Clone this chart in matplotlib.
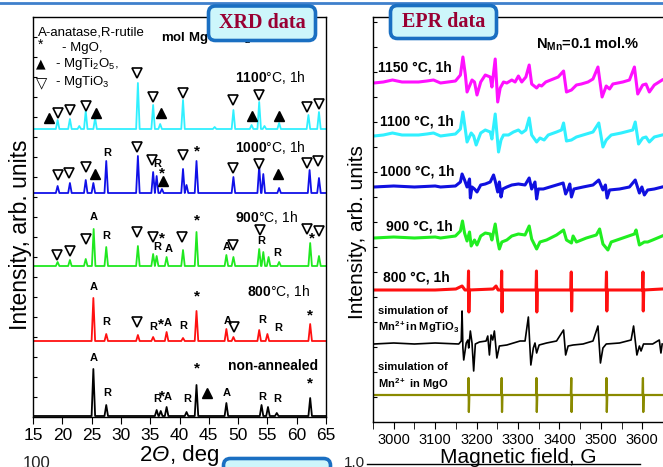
import matplotlib
matplotlib.use("Agg")
import matplotlib.pyplot as plt
from matplotlib.patches import FancyBboxPatch
from matplotlib.lines import Line2D
from matplotlib.offsetbox import TextArea, HPacker, AnnotationBbox

plt.rcParams['font.family'] = ['Liberation Sans', 'DejaVu Sans']
plt.rcParams['mathtext.fontset'] = 'custom'
plt.rcParams['mathtext.rm'] = 'Liberation Sans'
plt.rcParams['mathtext.it'] = 'Liberation Sans:italic'
plt.rcParams['mathtext.bf'] = 'Liberation Sans:bold'
plt.rcParams['mathtext.default'] = 'regular'

# ---------------- XRD data (2theta, peak height) ----------------
xrd_labels = [r"$\mathbf{1100}$°C, 1h", r"$\mathbf{1000}$°C, 1h", r"$\mathbf{900}$°C, 1h",
              r"$\mathbf{800}$°C, 1h", "non-annealed"]
xrd_colors = ['#30f0ff', '#1010e8', '#20e820', '#ff1010', 'black']
xrd_offsets = [288, 224, 151, 76, 1]

pos_1100 = [19.2, 21.3, 22.9, 24.0, 25.6, 32.9, 35.5, 36.7, 40.6, 46.0, 49.2, 52.3, 53.6, 54.5, 57.0, 62.0, 63.8]
h_1100 = [9, 10, 3, 18, 11, 46, 24, 5, 29, 2, 19, 4, 27, 3, 6, 14, 17]
pos_1000 = [19.2, 21.3, 24.0, 25.3, 27.5, 32.9, 35.5, 36.1, 37.0, 40.6, 41.2, 42.9, 49.2, 53.6, 54.3, 57.0, 62.2, 63.8]
h_1000 = [7, 10, 13, 10, 32, 37, 21, 17, 4, 24, 8, 32, 16, 27, 19, 5, 23, 15]
pos_900 = [19.2, 21.3, 24.0, 25.35, 27.5, 32.9, 35.5, 36.1, 37.8, 40.6, 42.9, 48.0, 49.2, 53.6, 54.3, 55.2, 57.0, 62.3, 63.8]
h_900 = [4, 6, 7, 37, 19, 20, 12, 10, 9, 16, 34, 11, 9, 17, 14, 9, 4, 23, 10]
pos_800 = [25.3, 27.5, 32.9, 35.5, 37.8, 40.6, 42.9, 48.0, 49.2, 53.6, 55.0, 62.3]
h_800 = [43, 7, 6, 4, 9, 3, 30, 12, 4, 11, 7, 17]
pos_non = [25.3, 27.5, 36.1, 36.8, 37.8, 41.2, 42.9, 48.0, 54.0, 55.1, 56.6, 62.3]
h_non = [47, 11, 6, 5, 9, 4, 31, 13, 11, 9, 3, 18]

# phase marks: (2theta, symbol, height above baseline)
marks_1100 = [(17.7, '^', 11), (19.3, 'v', 16), (21.3, 'v', 19), (24.0, 'v', 23), (25.8, '^', 16),
              (32.7, 'v', 56), (35.5, 'v', 32), (36.8, '^', 16), (40.6, 'v', 36), (49.1, 'v', 29),
              (52.4, '^', 13), (53.6, 'v', 34), (57.0, '^', 13), (61.8, 'v', 22), (63.8, 'v', 25)]
marks_1000 = [(27.6, 'R', 40), (32.7, 'v', 46), (40.6, 'v', 38), (43.0, '*', 42), (19.3, 'v', 18),
              (21.1, 'v', 20), (24.0, 'v', 26), (25.6, '^', 19), (35.3, 'v', 33), (36.2, 'R', 29),
              (37.0, '*', 20), (37.2, '^', 12), (49.1, 'v', 25), (53.6, 'v', 29), (56.8, '^', 19),
              (61.8, 'v', 30), (63.6, 'v', 32)]
marks_900 = [(19.1, 'v', 11), (21.3, 'v', 15), (24.0, 'v', 27), (25.4, 'A', 49), (27.5, 'R', 30),
             (32.7, 'v', 34), (35.5, 'v', 29), (37.0, '*', 28), (36.2, 'R', 19), (38.2, 'A', 17),
             (40.4, 'v', 29), (43.0, '*', 46), (48.1, 'A', 19), (49.1, 'v', 21), (53.7, 'v', 36),
             (53.9, 'R', 25), (56.6, 'R', 13), (61.8, 'v', 37), (63.8, 'v', 35), (62.6, '*', 28)]
marks_800 = [(25.4, 'A', 54), (43.0, '*', 45), (27.5, 'R', 19), (32.7, 'v', 19), (35.5, 'R', 14),
             (36.8, '*', 17), (38.0, 'A', 18), (40.6, 'R', 15), (48.3, 'A', 20), (49.3, 'v', 14),
             (54.1, 'R', 21), (56.8, 'R', 13), (62.3, '*', 26)]
marks_non = [(25.4, 'A', 58), (43.0, '*', 48), (27.6, 'R', 23), (36.2, 'R', 17), (37.0, '*', 20),
             (38.0, 'A', 19), (41.3, 'R', 17), (44.7, '^', 23), (48.1, 'A', 23), (54.2, 'R', 19),
             (56.6, 'R', 17), (62.3, '*', 33)]

xrd_pos = [pos_1100, pos_1000, pos_900, pos_800, pos_non]
xrd_h = [h_1100, h_1000, h_900, h_800, h_non]
xrd_marks = [marks_1100, marks_1000, marks_900, marks_800, marks_non]
xrd_label_x = [49.5, 49.5, 49.5, 51.5, 48.3]
xrd_label_h = [51, 45, 49, 49, 50]

# ---------------- EPR data (field G, signal) ----------------
epr_labels = ["1150 °C, 1h", "1100 °C, 1h", "1000 °C, 1h", "900 °C, 1h", "800 °C, 1h"]
epr_colors = ['#ff10ff', '#30f0ff', '#1010e0', '#20ee20', '#ff1010', 'black', '#8a8a00']
epr_offsets = [339, 286, 235, 184, 132, 78, 27]

b_1150 = [2952, 2975, 2997, 3020, 3060, 3080, 3096, 3113, 3149, 3161, 3167, 3173, 3177, 3189, 3195, 3201, 3210,
          3221, 3233, 3237, 3245, 3251, 3257, 3265, 3273, 3285, 3293, 3301, 3309, 3319, 3327, 3333,
          3345, 3351, 3357, 3367, 3385, 3397, 3410, 3417, 3429, 3441, 3453, 3469, 3481, 3493, 3503,
          3513, 3521, 3529, 3541, 3553, 3569, 3581, 3589, 3601, 3609, 3617, 3629, 3648]
v_1150 = [0, 1, 3, 1, 1, 2, 3, 0, 2, 8, 26, 8, -9, 3, 1, -12, 1,
          8, 6, -4, 24, -19, -5, 1, 0, 3, 1, 7, 1, 6, 18, -1,
          -5, -2, -3, 1, 4, 6, 12, -9, -7, -2, -1, 1, 4, 16, -14,
          -3, -6, -1, 0, 1, 3, 16, -11, -2, -1, -9, -2, 3]
b_1100 = [2952, 2975, 2997, 3020, 3060, 3080, 3096, 3113, 3149, 3161, 3167, 3173, 3177, 3187, 3193, 3199, 3210,
          3221, 3233, 3237, 3245, 3253, 3259, 3265, 3277, 3289, 3301, 3309, 3319, 3327, 3333,
          3345, 3353, 3363, 3373, 3393, 3405, 3410, 3417, 3429, 3441, 3457, 3481, 3495, 3505,
          3513, 3525, 3549, 3577, 3583, 3591, 3601, 3609, 3617, 3629, 3648]
v_1100 = [0, 1, 3, 1, 1, 2, 3, 0, 2, 7, 24, 6, -6, 3, 0, -9, 3,
          6, 4, -3, 22, -16, -4, 1, 1, 4, 6, 3, 6, 18, 1,
          -6, -2, -4, 1, 4, 6, 13, -5, -4, -1, 1, 4, 13, -11,
          -4, 1, 3, 6, 14, -8, -2, -1, -6, -1, 1]
b_1000 = [2952, 3000, 3050, 3100, 3113, 3149, 3161, 3165, 3171, 3177, 3183, 3185, 3189, 3195, 3201,
          3210, 3221, 3233, 3241, 3245, 3251, 3255, 3259, 3263, 3273, 3285, 3301, 3317, 3327, 3333,
          3341, 3345, 3349, 3361, 3385, 3409, 3415, 3421, 3425, 3429, 3435, 3457, 3481, 3495, 3505,
          3511, 3515, 3521, 3545, 3569, 3583, 3593, 3599, 3605, 3613, 3629, 3648]
v_1000 = [0, 1, 0, 1, 0, 1, 5, 13, 7, 0, 8, -11, 0, -2, -5,
          2, 3, 5, 12, 6, -5, 5, -10, -2, 0, 2, 3, 2, 9, -2,
          5, -12, -2, -2, 1, 4, -7, -2, 3, -10, -2, 0, 2, 7, -3,
          2, -11, -3, -2, 0, 7, -6, 0, -8, -3, -2, 0]
b_900 = [2952, 3000, 3050, 3100, 3113, 3149, 3161, 3166, 3171, 3177, 3183, 3187, 3195, 3201, 3210,
         3221, 3233, 3237, 3245, 3251, 3255, 3261, 3273, 3285, 3301, 3317, 3327, 3333, 3345, 3353,
         3369, 3393, 3410, 3417, 3429, 3433, 3441, 3465, 3489, 3497, 3505, 3517, 3525, 3553, 3581,
         3585, 3593, 3605, 3613, 3625, 3648]
v_900 = [0, 1, 0, 1, 0, 2, 7, 17, 5, -3, 6, -8, -2, -7, 2,
         5, 4, -2, 14, -3, -11, -4, -2, 2, 4, 3, 12, -1, -11, -4,
         -2, 3, 8, -2, -5, 2, -4, 0, 3, 9, -6, -12, -4, 0, 4,
         8, -7, -4, -4, -2, 2]
b_sim_mgtio3 = [2952, 3000, 3050, 3100, 3157, 3163, 3165, 3167, 3169, 3175, 3179, 3181, 3185, 3189, 3193,
                3197, 3207, 3223, 3227, 3231, 3235, 3239, 3243, 3249, 3255, 3273, 3289, 3305, 3317, 3325,
                3331, 3337, 3341, 3345, 3351, 3369, 3393, 3410, 3415, 3421, 3433, 3457, 3481, 3493, 3499,
                3505, 3513, 3545, 3573, 3579, 3587, 3593, 3597, 3603, 3625, 3641, 3645, 3648]
v_sim_mgtio3 = [0, 1, 0, 1, 0, 3, 33, -4, -16, 1, 4, -4, 13, 1, -27,
                0, 2, 3, 8, -11, 9, 4, 13, -14, -2, -1, 1, 3, 3, 27,
                -21, -4, 1, -9, -1, 1, 3, 14, -11, -2, -1, 0, 3, 18, -19,
                -4, 0, 1, 4, 18, -11, -2, -7, 0, 0, 4, -9, 0]

# sharp Mn2+ sextet lines (800 C sample and MgO simulation)
mn_lines = [3181, 3261, 3345, 3429, 3514, 3602]
up_800 = [19, 19, 19, 18, 18, 18]
down_800 = [-22, -22, -22, -21, -21, -21]
base_b_800 = [2952, 3100, 3150, 3165, 3172, 3240, 3247, 3252, 3648]
base_v_800 = [0, 0, 1, 4, 0, 1, 4, 0, 1]
up_mgo = [17, 17, 17, 17, 17, 17]
down_mgo = [-17, -17, -17, -17, -17, -17]


def xrd_curve(pos, h, w=0.3):
    xs, ys = [15], [0]
    for p, a in sorted(zip(pos, h)):
        xs += [p - w, p, p + w]
        ys += [0, a, 0]
    xs.append(65)
    ys.append(0)
    return xs, ys


def sextet(base_b, base_v, up, down):
    pts = list(zip(base_b, base_v))
    for b, u, d in zip(mn_lines, up, down):
        pts += [(b - 1.5, 0), (b - 0.4, u), (b + 0.4, d), (b + 1.5, 0)]
    pts.sort()
    return [p[0] for p in pts], [p[1] for p in pts]


W, H = 663, 467
fig = plt.figure(figsize=(W / 100, H / 100), dpi=100, facecolor='white')

# ---------------- left: XRD ----------------
ax1 = fig.add_axes([33 / W, 1 - 417 / H, 293 / W, 400 / H])
ax1.set_xlim(15, 65)
ax1.set_ylim(0, 400)
for pos, h, off, col in zip(xrd_pos, xrd_h, xrd_offsets, xrd_colors):
    xs, ys = xrd_curve(pos, h)
    ax1.plot(xs, [y + off for y in ys], color=col, lw=1.3)

for marks, off in zip(xrd_marks, xrd_offsets):
    for x, s, hh in marks:
        if s == 'v':
            ax1.plot(x, off + hh, marker='v', ms=6.5, mfc='white', mec='black', mew=1.2)
        elif s == '^':
            ax1.plot(x, off + hh, marker='^', ms=6.5, color='black')
        elif s == '*':
            ax1.text(x, off + hh, '*', fontsize=11, fontweight='bold', ha='center', va='center')
        else:
            ax1.text(x, off + hh, s, fontsize=8, fontweight='bold', ha='center', va='center')

for lab, x, hh, off in zip(xrd_labels, xrd_label_x, xrd_label_h, xrd_offsets):
    wt = 'bold' if lab == 'non-annealed' else 'normal'
    ax1.text(x, off + hh, lab, fontsize=10, fontweight=wt, ha='left', va='center')

ax1.text(0.018, 0.962, "A-anatase,R-rutile", transform=ax1.transAxes, fontsize=9.5, va='center')
ax1.text(0.027, 0.93, "*", transform=ax1.transAxes, fontsize=10, va='center', ha='center')
ax1.text(0.1, 0.922, "- MgO,", transform=ax1.transAxes, fontsize=9.5, va='center')
ax1.text(0.027, 0.882, "▲", transform=ax1.transAxes, fontsize=9, va='center', ha='center',
         family='DejaVu Sans')
ax1.text(0.075, 0.882, "- MgTi$_2$O$_5$,", transform=ax1.transAxes, fontsize=9.5, va='center')
ax1.text(0.03, 0.834, "▽", transform=ax1.transAxes, fontsize=10.5, va='center', ha='center',
         family='DejaVu Sans', fontweight='bold')
ax1.text(0.075, 0.837, "- MgTiO$_3$", transform=ax1.transAxes, fontsize=9.5, va='center')
ax1.text(0.437, 0.947, "mol MgO:TiO$_2$ = 1:1", transform=ax1.transAxes, fontsize=9.5,
         fontweight='bold', va='center')

ax1.set_xticks(range(15, 66, 5))
ax1.set_yticks(range(20, 400, 20))
ax1.set_yticklabels([])
ax1.tick_params(axis='x', direction='out', length=5, labelsize=12.5, pad=3)
ax1.tick_params(axis='y', direction='in', length=3)
xlab = HPacker(children=[TextArea("2", textprops=dict(fontsize=16)),
                         TextArea("Θ", textprops=dict(fontsize=16, style='italic')),
                         TextArea(", deg", textprops=dict(fontsize=16))], sep=0, pad=0)
ax1.add_artist(AnnotationBbox(xlab, (0.5, -0.07), xycoords='axes fraction', box_alignment=(0.5, 1),
                              frameon=False, pad=0, annotation_clip=False))
ax1.text(-0.044, 0.455, "Intensity, arb. units", transform=ax1.transAxes, fontsize=16.5,
         rotation=90, ha='center', va='center')

# ---------------- right: EPR ----------------
ax2 = fig.add_axes([373 / W, 1 - 422 / H, 290 / W, 405 / H])
ax2.set_xlim(2952, 3648)
ax2.set_ylim(0, 405)
epr_b = [b_1150, b_1100, b_1000, b_900]
epr_v = [v_1150, v_1100, v_1000, v_900]
for b, v, off, col in zip(epr_b, epr_v, epr_offsets[:4], epr_colors[:4]):
    ax2.plot(b, [y + off for y in v], color=col, lw=2.2)
b8, v8 = sextet(base_b_800, base_v_800, up_800, down_800)
ax2.plot(b8, [y + epr_offsets[4] for y in v8], color=epr_colors[4], lw=2.2)
ax2.plot(b_sim_mgtio3, [y + epr_offsets[5] for y in v_sim_mgtio3], color=epr_colors[5], lw=1.2)
bm, vm = sextet([2952, 3648], [0, 0], up_mgo, down_mgo)
ax2.plot(bm, [y + epr_offsets[6] for y in vm], color=epr_colors[6], lw=1.6)

epr_label_x = [2962, 2967, 2967, 2981, 2974]
epr_label_h = [15, 15, 16, 12, 12]
for lab, x, hh, off in zip(epr_labels, epr_label_x, epr_label_h, epr_offsets):
    ax2.text(x, off + hh, lab, fontsize=10, fontweight='bold', ha='left', va='center')
ax2.text(2962, 111, "simulation of", fontsize=8, fontweight='bold', va='center')
ax2.text(2962, 95, "Mn$^{2+}$in MgTiO$_3$", fontsize=8, fontweight='bold', va='center')
ax2.text(2962, 55, "simulation of", fontsize=8, fontweight='bold', va='center')
ax2.text(2962, 38, "Mn$^{2+}$ in MgO", fontsize=8, fontweight='bold', va='center')
ax2.text(3343, 378, "N$_{Mn}$=0.1 mol.%", fontsize=10.5, fontweight='bold', va='center')

ax2.set_xticks(range(3000, 3601, 100))
ax2.set_xticks(range(2950, 3651, 50), minor=True)
ax2.set_yticks(range(25, 405, 25))
ax2.set_yticklabels([])
ax2.tick_params(axis='x', which='both', direction='out', length=5, labelsize=10.5, pad=3)
ax2.tick_params(axis='y', direction='in', length=3)
ax2.spines['right'].set_visible(False)
ax2.text(0.5, -0.064, "Magnetic field, G", transform=ax2.transAxes, fontsize=15,
         ha='center', va='top')
ax2.text(-0.055, 0.47, "Intensity, arb. units", transform=ax2.transAxes, fontsize=15,
         rotation=90, ha='center', va='center')

for a in (ax1, ax2):
    for sp in a.spines.values():
        sp.set_linewidth(1.0)

# ---------------- slide decorations ----------------
fig.add_artist(Line2D([0, 1], [1 - 2.5 / H, 1 - 2.5 / H], color='#3f80cc', lw=2,
                      transform=fig.transFigure))
fig.add_artist(Line2D([367 / W, 640 / W], [1 - 464 / H, 1 - 464 / H], color='black', lw=1,
                      transform=fig.transFigure))
boxes = [(2.085, 4.265, 1.07, 0.345, "XRD data"), (3.905, 4.285, 1.06, 0.33, "EPR data"),
         (2.235, -0.25, 1.07, 0.335, "")]
for x0, y0, bw, bh, txt in boxes:
    fig.add_artist(FancyBboxPatch((x0, y0), bw, bh, boxstyle="round,pad=0,rounding_size=0.07",
                                  transform=fig.dpi_scale_trans, facecolor='#cdf6fb',
                                  edgecolor='#1a6fc2', lw=2.6, zorder=3))
    if txt:
        fig.text((x0 + bw / 2) / (W / 100), (y0 + bh / 2) / (H / 100), txt, family='Liberation Serif',
                 fontsize=14.5, fontweight='bold', color='#990033', ha='center', va='center', zorder=4)
fig.text(23 / W, 1 - 456 / H, "100", fontsize=12, va='top', color='#222222')
fig.text(344 / W, 1 - 456 / H, "1.0", fontsize=11, va='top', color='#222222')

fig.savefig("out.png", dpi=100, facecolor='white')
